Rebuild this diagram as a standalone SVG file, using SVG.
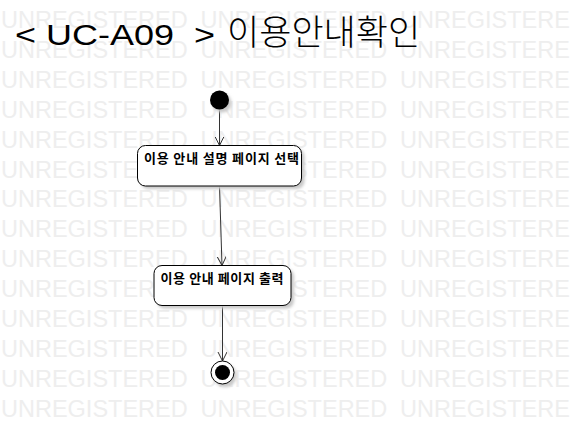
<svg xmlns="http://www.w3.org/2000/svg" width="570" height="427" viewBox="0 0 570 427">
  <defs>
    <style>
      .wm { font-family: "Liberation Sans", Arial, sans-serif; font-size: 23.5px; fill: #eeeeee; word-spacing: 6.3px; white-space: pre; }
      .title { font-family: "Liberation Sans", Arial, sans-serif; font-size: 30px; fill: #000; white-space: pre; }
      .ko { font-family: "Noto Sans CJK KR", "Liberation Sans", sans-serif; font-weight: 300; }
      .box { fill: #fff; stroke: #000; stroke-width: 1; }
      .shadow { fill: #c8c8c8; filter: url(#blur); }
      .label { font-family: "Noto Sans CJK KR", "Liberation Sans", sans-serif; font-size: 13px; font-weight: bold; fill: #000; }
      .edge { stroke: #333; stroke-width: 1; fill: none; marker-end: url(#open); }
    </style>
    <filter id="blur" x="-20%" y="-20%" width="140%" height="140%">
      <feGaussianBlur stdDeviation="1.6"/>
    </filter>
    <marker id="open" markerUnits="userSpaceOnUse" markerWidth="12" markerHeight="12" refX="9" refY="4.5" orient="auto">
      <path d="M0,0 L9,4.5 L0,9" fill="none" stroke="#333" stroke-width="1"/>
    </marker>
  </defs>

  <rect width="570" height="427" fill="#fff"/>

  <g id="watermark">
    <text class="wm" x="1" y="28">UNREGISTERED UNREGISTERED UNREGISTERED</text>
    <text class="wm" x="1" y="57.9">UNREGISTERED UNREGISTERED UNREGISTERED</text>
    <text class="wm" x="1" y="87.8">UNREGISTERED UNREGISTERED UNREGISTERED</text>
    <text class="wm" x="1" y="117.7">UNREGISTERED UNREGISTERED UNREGISTERED</text>
    <text class="wm" x="1" y="147.6">UNREGISTERED UNREGISTERED UNREGISTERED</text>
    <text class="wm" x="1" y="177.5">UNREGISTERED UNREGISTERED UNREGISTERED</text>
    <text class="wm" x="1" y="207.4">UNREGISTERED UNREGISTERED UNREGISTERED</text>
    <text class="wm" x="1" y="237.3">UNREGISTERED UNREGISTERED UNREGISTERED</text>
    <text class="wm" x="1" y="267.2">UNREGISTERED UNREGISTERED UNREGISTERED</text>
    <text class="wm" x="1" y="297.1">UNREGISTERED UNREGISTERED UNREGISTERED</text>
    <text class="wm" x="1" y="327">UNREGISTERED UNREGISTERED UNREGISTERED</text>
    <text class="wm" x="1" y="356.9">UNREGISTERED UNREGISTERED UNREGISTERED</text>
    <text class="wm" x="1" y="386.8">UNREGISTERED UNREGISTERED UNREGISTERED</text>
    <text class="wm" x="1" y="416.7">UNREGISTERED UNREGISTERED UNREGISTERED</text>
  </g>

  <g id="title">
    <text class="title" x="15" y="45"><tspan textLength="210" lengthAdjust="spacingAndGlyphs">&lt; UC-A09  &gt; </tspan><tspan class="ko" x="227" font-size="35">이용안내확인</tspan></text>
  </g>

  <g id="connectors">
    <line class="edge" x1="219.5" y1="109.5" x2="219.5" y2="145.5"/>
    <line class="edge" x1="219.5" y1="186" x2="222" y2="265.5"/>
    <line class="edge" x1="222.5" y1="305.5" x2="222.5" y2="361"/>
  </g>

  <g id="initial">
    <circle cx="222" cy="103" r="9.5" class="shadow"/>
    <circle cx="219.5" cy="100" r="9.5" fill="#000"/>
  </g>

  <g id="action1">
    <rect x="140.5" y="148.5" width="164" height="40.5" rx="8" class="shadow"/>
    <rect x="137.5" y="145.5" width="164" height="40.5" rx="8" class="box"/>
    <text class="label" x="144" y="163" textLength="155" lengthAdjust="spacing">이용 안내 설명 페이지 선택</text>
  </g>

  <g id="action2">
    <rect x="157" y="268.5" width="137" height="40" rx="8" class="shadow"/>
    <rect x="154" y="265.5" width="137" height="40" rx="8" class="box"/>
    <text class="label" x="160.5" y="283" textLength="123" lengthAdjust="spacing">이용 안내 페이지 출력</text>
  </g>

  <g id="final">
    <circle cx="225" cy="375.5" r="11.5" class="shadow"/>
    <circle cx="222.5" cy="372.5" r="11.5" fill="#fff" stroke="#000" stroke-width="1"/>
    <circle cx="222.5" cy="372.5" r="7.5" fill="#000"/>
  </g>
</svg>
